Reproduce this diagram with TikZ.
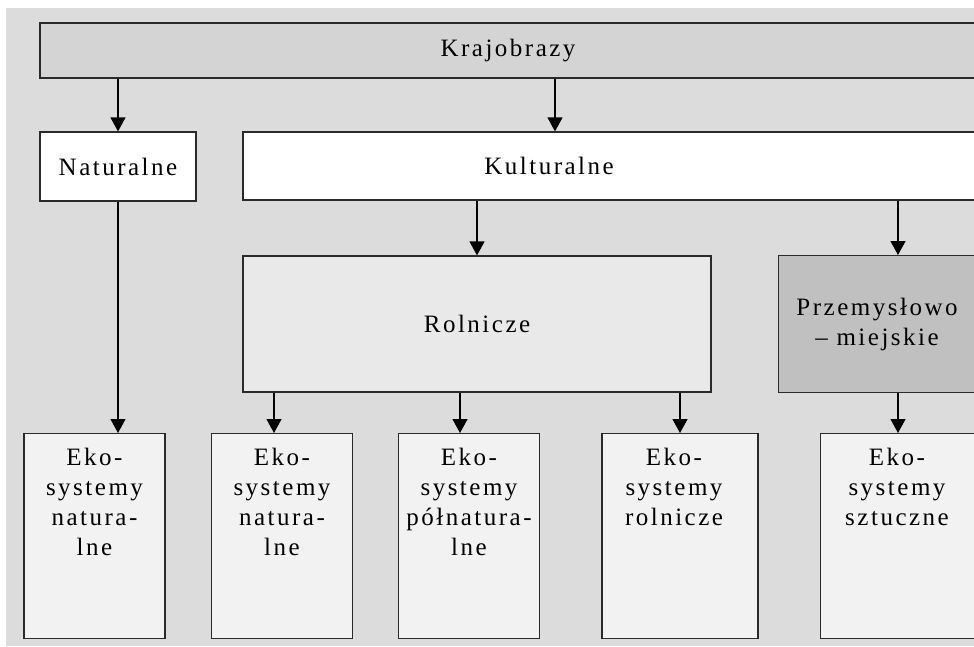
\documentclass[tikz,border=0pt]{standalone}
\usepackage{fontspec}
\setmainfont[LetterSpace=10]{Liberation Serif}
\usetikzlibrary{arrows.meta,positioning}

\definecolor{bggray}{HTML}{DCDCDC}
\definecolor{krajgray}{HTML}{D4D4D4}
\definecolor{rolgray}{HTML}{E9E9E9}
\definecolor{przgray}{HTML}{C0C0C0}
\definecolor{ekogray}{HTML}{F2F2F2}
\definecolor{edge}{HTML}{2A2A2A}

\tikzstyle{box} = [draw=edge, line width=1.2pt, rectangle, inner sep=0pt,
    font=\fontsize{25}{30}\selectfont, align=center]
\tikzstyle{eko} = [box, fill=ekogray, minimum width=141pt, minimum height=205pt, anchor=north]
\tikzstyle{lbl} = [inner sep=0pt, font=\fontsize{25}{30}\selectfont, align=center]
\tikzstyle{ekolbl} = [lbl, anchor=north]
\tikzstyle{arr} = [line width=1.2pt, -{Triangle[width=15pt,length=14pt]}]

\begin{document}
\begin{tikzpicture}[x=1pt, y=-1pt]
    \useasboundingbox (0,0) rectangle (974,646);
    \clip (0,0) rectangle (974,646);
    \fill[bggray] (6,8) rectangle (974,646);

    % top level
    \node[box, fill=krajgray, minimum width=960pt, minimum height=55pt] (kraj) at (520,50.5) {};
    \node[lbl] (kraj-t) at (508,50.5) {Krajobrazy};

    \node[box, fill=white, minimum width=156pt, minimum height=69pt] (nat) at (118,166.5) {Naturalne};
    \node[box, fill=white, minimum width=760pt, minimum height=68pt] (kult) at (623,166) {};
    \node[lbl] (kult-t) at (549,166) {Kulturalne};

    \node[box, fill=rolgray, minimum width=468pt, minimum height=136pt] (rol) at (477,324) {Rolnicze};
    \node[box, fill=przgray, minimum width=220pt, minimum height=137pt, anchor=north west] (prz) at (778,255) {};
    \node[lbl] (prz-t) at (877,324) {Przemysłowo\\– miejskie};

    % ecosystems
    \node[eko] (eko1) at (94.5,433) {};
    \node[eko] (eko2) at (282,433) {};
    \node[eko] (eko3) at (469,433) {};
    \node[eko, minimum width=156pt] (eko4) at (680,433) {};
    \node[eko, minimum width=170pt, anchor=north west] (eko5) at (820,433) {};

    \node[ekolbl] (eko1-t) at ([yshift=-15pt]eko1.north) {Eko-\\systemy\\natura-\\lne};
    \node[ekolbl] (eko2-t) at ([yshift=-15pt]eko2.north) {Eko-\\systemy\\natura-\\lne};
    \node[ekolbl] (eko3-t) at ([yshift=-15pt]eko3.north) {Eko-\\systemy\\półnatura-\\lne};
    \node[ekolbl] (eko4-t) at ([yshift=-15pt, xshift=-6pt]eko4.north) {Eko-\\systemy\\rolnicze};
    \node[ekolbl] (eko5-t) at ([yshift=-15pt, xshift=77pt]eko5.north west) {Eko-\\systemy\\sztuczne};

    % arrow columns
    \coordinate (c-kult) at (555,0);
    \coordinate (c-prz) at (898,0);
    \coordinate (c2) at ([xshift=-8pt]eko2.north);
    \coordinate (c3) at ([xshift=-9pt]eko3.north);

    \draw[arr] (kraj.south -| nat.north) -- (nat.north);
    \draw[arr] (kraj.south -| c-kult) -- (kult.north -| c-kult);
    \draw[arr] (kult.south -| rol.north) -- (rol.north);
    \draw[arr] (kult.south -| c-prz) -- (prz.north -| c-prz);
    \draw[arr] (nat.south) -- (eko1.north -| nat.south);
    \draw[arr] (rol.south -| c2) -- (c2);
    \draw[arr] (rol.south -| c3) -- (c3);
    \draw[arr] (rol.south -| eko4.north) -- (eko4.north);
    \draw[arr] (prz.south -| c-prz) -- (eko5.north -| c-prz);
\end{tikzpicture}
\end{document}
